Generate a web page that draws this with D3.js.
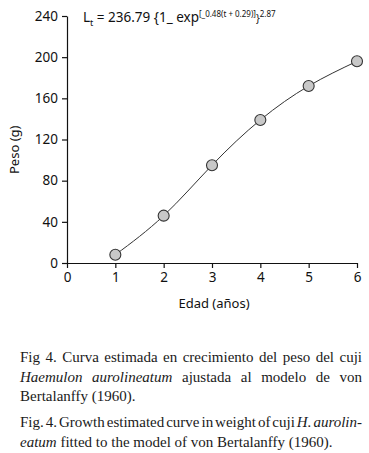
<!DOCTYPE html>
<html>
<head>
<meta charset="utf-8">
<script src="https://cdn.jsdelivr.net/npm/d3@7"></script>
<style>
  body { margin: 0; background: #fff; }
  svg { display: block; }
</style>
</head>
<body>
<svg class="growth" width="369" height="453"></svg>
<script>
// data
const edad = [1, 2, 3, 4, 5, 6];
const peso = [8, 46, 95, 139, 172, 196];
const xTicks = [0, 1, 2, 3, 4, 5, 6];
const yTicks = [0, 40, 80, 120, 160, 200, 240];

const captionEs = [
  ["Fig 4. Curva estimada en crecimiento del peso del cuji", true],
  ["<i>Haemulon aurolineatum</i> ajustada al modelo de von", true],
  ["Bertalanffy (1960).", false]
];
const captionEn = [
  ["Fig. 4. Growth estimated curve in weight of cuji <i>H. aurolin-</i>", true],
  ["<i>eatum</i> fitted to the model of von Bertalanffy (1960).", false]
];

var svg = d3.select("svg.growth"),
  margin = { top: 16, right: 12, bottom: 190, left: 67 },
  width = +svg.attr("width") - margin.left - margin.right,
  height = +svg.attr("height") - margin.top - margin.bottom;

const sans = "'Noto Sans', 'Open Sans', sans-serif";
const serif = "'Liberation Serif', 'DejaVu Serif', serif";

const chartG = svg
  .append("g")
  .attr("transform", `translate(${margin.left}, ${margin.top})`);

const xScale = d3.scaleLinear().domain([0, 6]).range([0, width]);
const yScale = d3.scaleLinear().domain([0, 240]).range([height, 0]);

const xAxis = d3.axisBottom(xScale).tickValues(xTicks).tickFormat(d3.format("d"))
  .tickSize(5).tickSizeOuter(0).tickPadding(4);
const yAxis = d3.axisLeft(yScale).tickValues(yTicks).tickFormat(d3.format("d"))
  .tickSize(5).tickSizeOuter(0).tickPadding(4);

const styleAxis = (g) => {
  g.select(".domain").attr("stroke", "#111").attr("stroke-width", 1.2);
  g.selectAll(".tick line").attr("stroke", "#111").attr("stroke-width", 1.2);
  g.selectAll(".tick text")
    .attr("fill", "#111")
    .style("font-family", sans)
    .style("font-size", "13.5px");
};

chartG
  .append("g")
  .attr("class", "x axis")
  .attr("transform", `translate(0, ${height})`)
  .call(xAxis)
  .call(styleAxis);

chartG
  .append("g")
  .attr("class", "y axis")
  .call(yAxis)
  .call(styleAxis);

// axis titles
chartG
  .append("text")
  .attr("x", xScale(3) + 2)
  .attr("y", height + 45)
  .attr("text-anchor", "middle")
  .style("font-family", sans)
  .style("font-size", "13px")
  .attr("fill", "#111")
  .text("Edad (años)");

chartG
  .append("text")
  .attr("transform", `translate(${-48}, ${yScale(110)}) rotate(-90)`)
  .attr("text-anchor", "middle")
  .style("font-family", sans)
  .style("font-size", "13px")
  .attr("fill", "#111")
  .text("Peso (g)");

// fitted curve through the points
const pts = edad.map((e, i) => ({ edad: e, peso: peso[i] }));
const line = d3
  .line()
  .x((d) => xScale(d.edad))
  .y((d) => yScale(d.peso))
  .curve(d3.curveNatural);

chartG
  .append("path")
  .datum(pts)
  .attr("fill", "none")
  .attr("stroke", "#333")
  .attr("stroke-width", 1)
  .attr("d", line);

chartG
  .selectAll("circle")
  .data(pts)
  .enter()
  .append("circle")
  .attr("cx", (d) => xScale(d.edad))
  .attr("cy", (d) => yScale(d.peso))
  .attr("r", 5.5)
  .attr("fill", "#c8c8c8")
  .attr("stroke", "#333")
  .attr("stroke-width", 1.1);

// equation
const eq = chartG
  .append("text")
  .attr("x", 16)
  .attr("y", 6)
  .style("font-family", sans)
  .style("font-size", "13.5px")
  .attr("fill", "#111");
eq.append("tspan").text("L");
eq.append("tspan").attr("dy", 4).style("font-size", "9px").text("t");
eq.append("tspan").attr("dy", -4).text(" = 236.79 {1_ exp");
eq.append("tspan").attr("dy", -5).style("font-size", "8px").text("[_0.48(t + 0.29)]");
eq.append("tspan").attr("dy", 5).style("font-size", "10px").text("}");
eq.append("tspan").attr("dy", -5).style("font-size", "8px").text("2.87");

// caption, justified line by line
const capLeft = 20, capRight = 362;
const addCaption = (lines, y0) => {
  lines.forEach(([html, justify], i) => {
    const t = svg
      .append("text")
      .attr("x", capLeft)
      .attr("y", y0 + i * 19.5)
      .style("font-family", serif)
      .style("font-size", "15px")
      .attr("fill", "#1a1a1a");
    html.split(/(<i>.*?<\/i>)/).forEach((part) => {
      if (!part) return;
      const it = part.startsWith("<i>");
      t.append("tspan")
        .style("font-style", it ? "italic" : "normal")
        .text(part.replace(/<\/?i>/g, ""));
    });
    if (justify) {
      const natural = t.node().getComputedTextLength();
      const spaces = (html.replace(/<\/?i>/g, "").match(/ /g) || []).length;
      t.attr("word-spacing", (capRight - capLeft - natural) / spaces);
    }
  });
};
addCaption(captionEs, 362);
addCaption(captionEn, 427);
</script>
</body>
</html>
